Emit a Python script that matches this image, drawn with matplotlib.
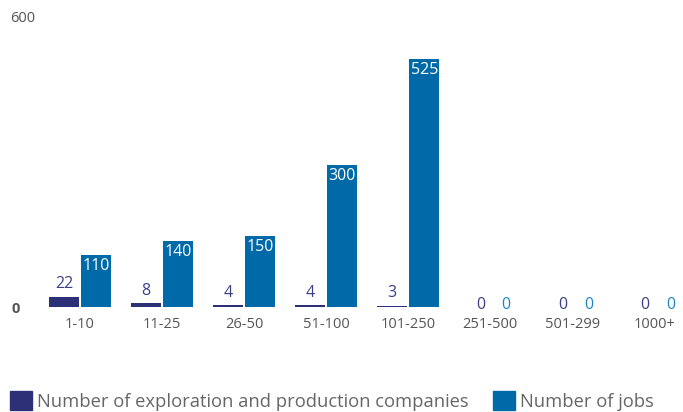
import matplotlib
matplotlib.use("Agg")
import matplotlib.pyplot as plt
from matplotlib.patches import Patch
import numpy as np

plt.rcParams['font.family'] = ['Open Sans', 'DejaVu Sans']

categories = ["1-10", "11-25", "26-50", "51-100", "101-250", "251-500", "501-299", "1000+"]
companies = [22, 8, 4, 4, 3, 0, 0, 0]
jobs = [110, 140, 150, 300, 525, 0, 0, 0]
series_names = ["Number of exploration and production companies", "Number of jobs"]

navy = "#2b3077"
blue = "#0069a7"
navy_text = "#3b4088"
blue_text = "#1f87c6"
gray = "#555555"

W, H = 683, 412
fig = plt.figure(figsize=(W / 100, H / 100), dpi=100)
# axes in pixel coordinates: x from 39, y=0 at 307, y=600 at ~24
left, right = 39, 679
bottom_px, top_px = 307, 23.6
ax = fig.add_axes([left / W, 1 - bottom_px / H, (right - left) / W, (bottom_px - top_px) / H])

x = np.arange(len(categories))
bw = 0.37
off = 0.195
ax.bar(x - off, companies, bw, color=navy)
ax.bar(x + off, jobs, bw, color=blue)

ax.set_ylim(0, 600)
ax.set_xlim(-0.5, 7.3)

vfs = 11.5
for xi, v in zip(x, companies):
    if v > 0:
        ax.annotate(str(v), (xi - off, v), xytext=(0, 3), textcoords="offset points",
                    ha="center", va="bottom", color=navy_text, fontsize=vfs)
    else:
        ax.annotate(str(v), (xi - off + 0.08, v), xytext=(0, 1.5), textcoords="offset points",
                    ha="center", va="center", color=navy_text, fontsize=vfs)
for xi, v in zip(x, jobs):
    if v > 0:
        ax.annotate(str(v), (xi + off, v), xytext=(0, -2), textcoords="offset points",
                    ha="center", va="top", color="white", fontsize=vfs)
    else:
        ax.annotate(str(v), (xi + off, v), xytext=(0, 1.5), textcoords="offset points",
                    ha="center", va="center", color=blue_text, fontsize=vfs)

ax.set_xticks(x)
ax.set_xticklabels(categories, fontsize=10.5, color=gray)
ax.tick_params(axis="x", length=0, pad=7)
ax.set_yticks([])
for s in ax.spines.values():
    s.set_visible(False)

fig.text(10 / W, 1 - 18 / H, "600", ha="left", va="center", fontsize=10.5, color=gray)
fig.text(12 / W, 1 - 309 / H, "0", ha="left", va="center", fontsize=10.5, color=gray, fontweight="bold")

handles = [Patch(color=navy), Patch(color=blue)]
fig.legend(handles, series_names, loc="lower left", bbox_to_anchor=(10 / W, 1 / H),
           borderpad=0, borderaxespad=0,
           ncol=2, frameon=False, fontsize=13.2, labelcolor="#666666",
           handlelength=1.2, handleheight=1.2, handletextpad=0.25, columnspacing=1.35)

fig.savefig("out.png", dpi=100)
